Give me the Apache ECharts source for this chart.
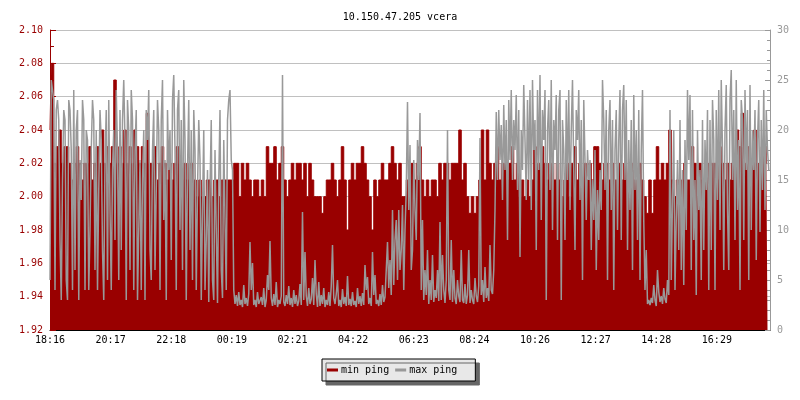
<!DOCTYPE html>
<html>
<head>
<meta charset="utf-8">
<script src="https://cdn.jsdelivr.net/npm/echarts@6/dist/echarts.min.js"></script>
<style>
html,body{margin:0;padding:0;background:#fff;}
#chart{width:800px;height:400px;}
</style>
</head>
<body>
<div id="chart"></div>
<script>
// time axis: minutes after 18:16
var minStepMinutes = 5;    // min ping sample spacing
var maxStepMinutes = 2.5;  // max ping sample spacing
var tickLabels = ['18:16','20:17','22:18','00:19','02:21','04:22','06:23','08:24','10:26','12:27','14:28','16:29'];
var leftTickLabels = ['1.92','1.94','1.96','1.98','2.00','2.02','2.04','2.06','2.08','2.10'];
var rightTickLabels = ['0','5','10','15','20','25','30'];

var minPing = [
2.04,2.08,2.02,2.03,2.04,2.02,2.03,2.03,2.02,2.01,2.02,2.03,2.02,2.01,2.02,2.02,2.03,2.01,2.02,2.03,2.02,2.04,2.02,2.03,
2.02,2.03,2.07,2.02,2.03,2.02,2.04,2.02,2.03,2.02,2.04,2.03,2.02,2.03,2.02,2.05,2.02,2.02,2.03,2.01,2.02,2.03,2.02,2.01,
2.02,2.01,2.02,2.03,2.02,2.01,2.02,2.01,2.02,2.02,2.01,2.00,2.01,2.00,2.00,2.01,2.01,2.00,2.01,2.01,2.00,2.01,2.01,2.01,
2.01,2.01,2.02,2.02,2.00,2.02,2.01,2.02,2.01,2.00,2.01,2.01,2.00,2.01,2.00,2.03,2.02,2.02,2.03,2.01,2.02,2.03,2.01,2.00,
2.01,2.02,2.01,2.02,2.02,2.01,2.02,2.00,2.02,2.01,2.00,2.00,2.00,1.99,2.00,2.01,2.01,2.02,2.01,2.00,2.01,2.03,2.01,1.98,
2.01,2.02,2.01,2.02,2.02,2.03,2.02,2.01,2.00,1.98,2.01,2.00,2.01,2.02,2.01,2.01,2.02,2.03,2.02,2.01,2.02,2.00,2.00,2.01,
2.01,2.02,2.01,2.02,2.03,2.01,2.00,2.01,2.00,2.01,2.01,2.00,2.02,2.01,2.02,2.02,2.01,2.02,2.02,2.02,2.04,2.01,2.02,2.00,
1.99,2.00,1.99,2.00,2.01,2.04,2.01,2.04,2.02,2.01,2.02,2.03,2.01,2.02,2.02,2.01,2.02,2.03,2.01,2.02,2.00,2.01,2.00,2.01,
2.00,2.01,2.03,2.02,2.02,2.03,2.02,2.01,2.02,2.02,2.01,2.02,2.01,2.00,2.01,2.02,2.00,2.02,2.03,2.01,2.02,2.01,2.02,2.01,
2.02,2.01,2.03,2.03,2.02,2.01,2.02,2.02,2.01,2.02,2.01,2.01,2.02,2.01,2.02,2.01,2.01,2.02,2.01,2.01,2.02,2.01,2.00,1.99,
2.01,1.99,2.01,2.03,2.01,2.02,2.01,2.02,2.04,2.01,2.00,2.01,2.00,2.01,2.02,2.01,2.01,2.03,2.02,2.01,2.02,2.01,2.01,2.02,
2.01,2.02,2.02,2.01,2.03,2.02,2.01,2.02,2.01,2.02,2.01,2.04,2.03,2.05,2.02,2.03,2.01,2.02,2.04,2.02,2.01,2.03,2.02,2.03
];

var maxPing = [
5,25,24,23,4,22,23,21,9,3,15,22,21,5,3,23,22,18,4,24,6,20,22,3,
17,13,23,21,4,20,19,4,10,18,23,21,6,20,4,14,22,19,8,3,17,22,5,23,
12,4,16,20,9,24,18,5,22,8,21,25,19,3,23,20,6,24,21,4,18,22,3,10,
17,4,15,20,3,22,19,24,8,5,18,22,6,14,23,20,4,21,25,11,17,3,22,16,
20,7,23,25.5,18,4,22,24,10,21,6,25,19,3,16,23,8,20,5,22,18,4,14,21,
17,3,12,20,4,9,16,2.8,14,21,5,3,18,10,2.7,15,22,6,3.2,19,11,4,21,23,
24,17,16,4,2.6,3.5,2.4,3.8,2.5,3,2.3,4.5,2.6,3.2,2.4,3.6,8.8,4,6.7,2.5,3,2.3,3.8,2.6,
2.4,3.3,2.5,4.2,2.3,3,5.5,4,8.9,3.2,2.4,3.6,2.5,4.8,2.3,3,2.6,3.4,25.5,2.8,2.4,3.5,2.6,4.4,
2.5,3.2,2.3,4,2.6,3.5,2.4,2.9,4.6,2.5,11.8,3,7.8,3.4,2.4,4.2,2.6,3.1,5.2,2.5,7,3.6,2.3,4.8,
2.4,3.5,2.6,4.2,2.3,3,2.5,3.8,2.4,4.4,8.5,3.2,2.6,3.6,5,2.4,3,2.3,4.1,2.6,3.3,2.4,5.4,2.5,
3.1,2.4,3.8,2.5,2.9,2.3,4.2,2.6,3.4,2.4,3.7,2.5,6.5,4,5.3,2.6,3.2,2.4,7.8,3.5,5.5,2.6,3,2.4,
3.6,2.5,4.5,2.8,3.3,6,8.8,4.2,7,3.5,12,4.5,9,11,5,12,6,8,12.5,4,10,14,22.8,12,
18.5,6,8,17,12,9,19,15,21.7,4,11,3,6,3.5,8,2.6,5,3,7.5,2.8,4,3.2,6,2.9,
10.8,3,7.5,4,2.7,5,20,4,3,9,2.8,6,3.2,2.6,5,3.4,2.8,8,3,2.7,4.6,2.6,3.5,8,
2.7,4,3,2.6,5.2,3.4,2.8,4.4,19.2,3.5,5,2.8,6.3,3.2,4.2,2.9,8.5,4,3.6,6,12,21.8,15,22,
17,20.5,13,22.5,16,21,9,23,17,24,15,21,18,23.5,14,22,7.3,20,16,24.5,19,13,23,15,
24,12,25,18,21,8,24,16,25.5,11,22,19,24,3,20,23,14,25,10,21,18,23.5,9,22,
24,3,21,18,9,23,15,24,12,20,25,16,8,22,19,24,13,21,5,23,17,11,18,15,
17,8,15,11,18,6,14,9,16,12,25,21,14,22,5,20,23,12,21,4,18,22,10,19,
24,9,22,24.5,15,23,8,19,12,21,6,23.5,14,20,9,22,5,18,24,11,4,8,2.6,3,
2.5,3.2,2.7,4.5,3,2.4,6,3.8,2.8,3.4,2.6,4.2,3.1,2.7,5,3.5,22,5,13,20,4,11,17,8,
21,6,16,4.5,19,10,24,17,23.5,6,22,9,15,3.5,20,12,16,5,21,8,19,14,22,4,
21,8,23,19,4,22,13,24,10,25,18,6,20,24.5,12,6,23,26,15,22,9,25,12,19,
4,23,21,9,24,16,22,5,24.5,10,20,16,22,7,19,23,9.8,21,14,24,12,22,18,16
];

var labelStep = 121.25;
var totalMinutes = 1440;

var minData = minPing.map(function (v, i) { return [i * minStepMinutes, v]; });
var maxData = maxPing.map(function (v, i) { return [i * maxStepMinutes, v]; });

var FONT = 'DejaVu Sans Mono';
var chart = echarts.init(document.getElementById('chart'), null, {renderer: 'canvas'});
chart.setOption({
  animation: false,
  backgroundColor: '#ffffff',
  title: {
    text: '10.150.47.205 vcera',
    left: 'center',
    top: 7,
    textStyle: {fontFamily: FONT, fontSize: 10, fontWeight: 'normal', color: '#000'}
  },
  legend: {
    left: 322,
    top: 359,
    padding: [6, 18, 6, 5],
    itemGap: 6,
    itemWidth: 11,
    itemHeight: 3,
    icon: 'rect',
    backgroundColor: '#e8e8e8',
    borderColor: '#000',
    borderWidth: 1,
    borderRadius: 0,
    shadowColor: '#666666',
    shadowOffsetX: 4,
    shadowOffsetY: 4,
    shadowBlur: 0,
    textStyle: {fontFamily: FONT, fontSize: 10, color: '#000', padding: [0, 0, 0, -2]},
    data: ['min ping', 'max ping']
  },
  grid: {left: 50, right: 30, top: 30, bottom: 70},
  xAxis: {
    type: 'value',
    min: 0,
    max: totalMinutes,
    interval: labelStep,
    axisLine: {show: true, lineStyle: {color: '#000', width: 1}},
    axisTick: {show: true, inside: true, length: 5, lineStyle: {color: '#000'}},
    axisLabel: {
      fontFamily: FONT, fontSize: 10, color: '#000', margin: 5,
      showMaxLabel: false,
      formatter: function (v) {
        var k = Math.round(v / labelStep);
        return (Math.abs(k * labelStep - v) < 0.01 && k < tickLabels.length) ? tickLabels[k] : '';
      }
    },
    splitLine: {show: false}
  },
  yAxis: [{
    type: 'value',
    min: 1.92,
    max: 2.10,
    interval: 0.02,
    position: 'left',
    axisLine: {show: true, lineStyle: {color: '#990000', width: 1}},
    axisTick: {show: true, inside: true, length: 6, lineStyle: {color: '#990000'}},
    minorTick: {show: true, splitNumber: 2, length: 4, lineStyle: {color: '#990000'}},
    axisLabel: {
      fontFamily: FONT, fontSize: 10, color: '#990000', margin: 7,
      formatter: function (v) {
        var k = Math.round((v - 1.92) / 0.02);
        return leftTickLabels[k] || '';
      }
    },
    splitLine: {show: true, lineStyle: {color: '#c0c0c0', width: 1}}
  }, {
    type: 'value',
    min: 0,
    max: 30,
    interval: 5,
    position: 'right',
    axisLine: {show: true, lineStyle: {color: '#999999', width: 1}},
    axisTick: {show: true, inside: true, length: 5, lineStyle: {color: '#999999'}},
    minorTick: {show: true, splitNumber: 5, length: 3, lineStyle: {color: '#999999'}},
    axisLabel: {
      fontFamily: FONT, fontSize: 10, color: '#999999', margin: 7,
      formatter: function (v) {
        var k = Math.round(v / 5);
        return rightTickLabels[k] || '';
      }
    },
    splitLine: {show: false}
  }],
  series: [{
    name: 'min ping',
    type: 'line',
    yAxisIndex: 0,
    step: 'middle',
    showSymbol: false,
    symbol: 'none',
    color: '#990000',
    lineStyle: {color: '#990000', width: 1},
    areaStyle: {color: '#990000', opacity: 1},
    data: minData,
    z: 2
  }, {
    name: 'max ping',
    type: 'line',
    yAxisIndex: 1,
    showSymbol: false,
    symbol: 'none',
    color: '#999999',
    lineStyle: {color: '#999999', width: 1.5},
    data: maxData,
    z: 3
  }]
});
</script>
</body>
</html>
